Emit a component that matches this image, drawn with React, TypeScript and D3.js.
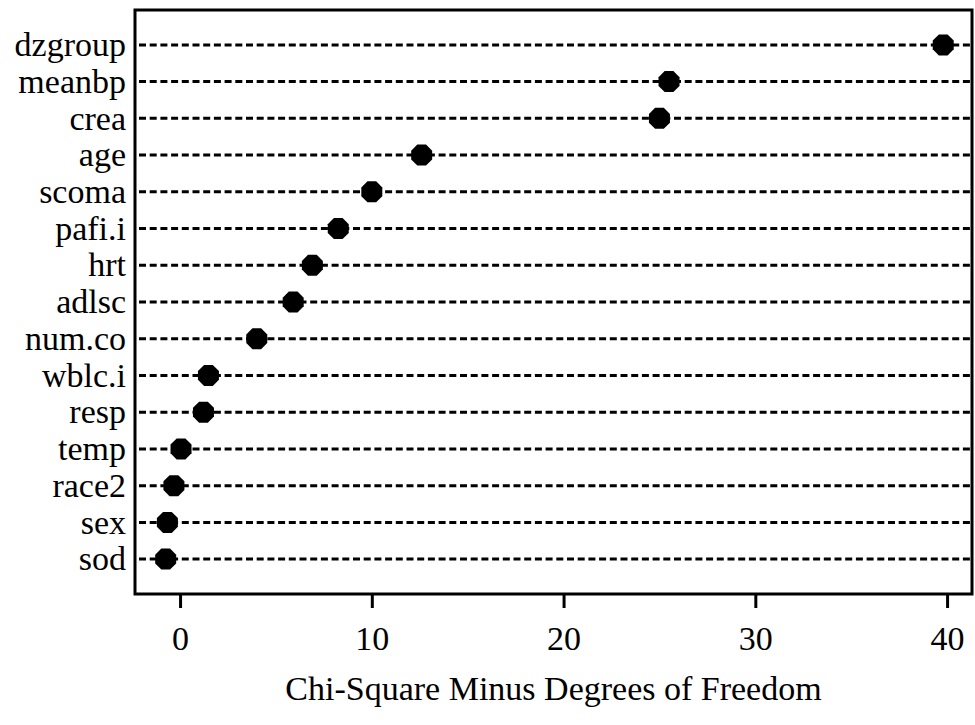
import { useEffect, useRef } from 'react';
import * as d3 from 'd3';

const variables = [
  'dzgroup', 'meanbp', 'crea', 'age', 'scoma', 'pafi.i', 'hrt', 'adlsc',
  'num.co', 'wblc.i', 'resp', 'temp', 'race2', 'sex', 'sod',
];
const chiSqMinusDf = [
  39.8, 25.5, 25.0, 12.6, 10.0, 8.25, 6.9, 5.9,
  4.0, 1.48, 1.22, 0.05, -0.32, -0.66, -0.75,
];
const xTicks = [0, 10, 20, 30, 40];
const xTitle = 'Chi-Square Minus Degrees of Freedom';

const App = () => {
  const ref = useRef<SVGSVGElement>(null);

  useEffect(() => {
    const width = 975;
    const height = 725;
    const box = { left: 135, right: 972, top: 10, bottom: 594 };
    const font = '"Liberation Serif", "Times New Roman", serif';
    const fontSize = 34;

    const svg = d3.select(ref.current);
    svg.selectAll('*').remove();
    svg.attr('width', width).attr('height', height);

    const x = d3.scaleLinear().domain([-2.35, 41.3]).range([box.left, box.right]);
    const y = d3.scalePoint<string>().domain(variables).range([box.top, box.bottom]).padding(0.95);

    const data = variables.map((v, i) => ({ name: v, value: chiSqMinusDf[i] }));

    // dotted guide lines
    svg
      .append('g')
      .selectAll('line')
      .data(data)
      .join('line')
      .attr('x1', box.left + 4)
      .attr('x2', box.right - 1)
      .attr('y1', (d) => y(d.name)!)
      .attr('y2', (d) => y(d.name)!)
      .attr('stroke', '#000')
      .attr('stroke-width', 3)
      .attr('stroke-dasharray', '7,3.7');

    // octagon markers
    const octagon = d3
      .lineRadial<number>()
      .angle((k) => Math.PI / 8 + (k * Math.PI) / 4)
      .radius(10.5 / Math.cos(Math.PI / 8))
      .curve(d3.curveLinearClosed);

    svg
      .append('g')
      .selectAll('path')
      .data(data)
      .join('path')
      .attr('transform', (d) => `translate(${x(d.value)},${y(d.name)})`)
      .attr('d', octagon(d3.range(8)))
      .attr('fill', '#000');

    // frame
    svg
      .append('rect')
      .attr('x', box.left)
      .attr('y', box.top)
      .attr('width', box.right - box.left)
      .attr('height', box.bottom - box.top)
      .attr('fill', 'none')
      .attr('stroke', '#000')
      .attr('stroke-width', 3);

    // category labels
    svg
      .append('g')
      .selectAll('text')
      .data(data)
      .join('text')
      .attr('x', box.left - 9)
      .attr('y', (d) => y(d.name)!)
      .attr('dy', '0.33em')
      .attr('text-anchor', 'end')
      .attr('font-family', font)
      .attr('font-size', fontSize)
      .attr('fill', '#000')
      .text((d) => d.name);

    // x axis
    const axis = svg
      .append('g')
      .attr('transform', `translate(0,${box.bottom})`)
      .call(d3.axisBottom(x).tickValues(xTicks).tickSize(14).tickPadding(18).tickFormat(d3.format('d')));
    axis.select('.domain').remove();
    axis.selectAll('line').attr('stroke', '#000').attr('stroke-width', 3);
    axis
      .selectAll('text')
      .attr('fill', '#000')
      .attr('font-family', font)
      .attr('font-size', fontSize);

    svg
      .append('text')
      .attr('x', (box.left + box.right) / 2)
      .attr('y', 700)
      .attr('text-anchor', 'middle')
      .attr('font-family', font)
      .attr('font-size', fontSize)
      .attr('fill', '#000')
      .text(xTitle);
  }, []);

  return <svg ref={ref} style={{ position: 'absolute', left: 0, top: 0 }} />;
};

export default App;
